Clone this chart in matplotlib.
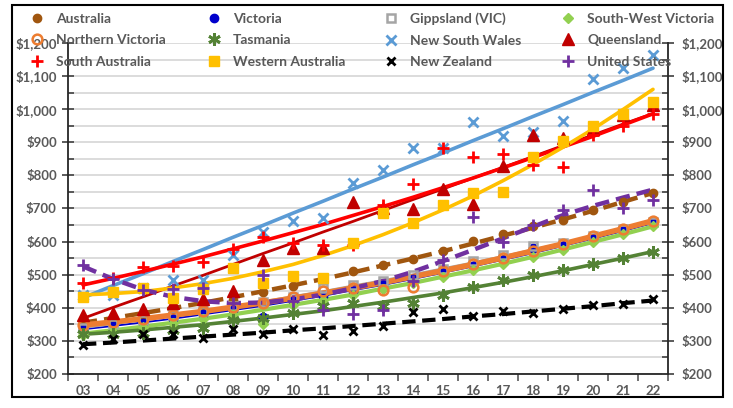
import numpy as np
import matplotlib.pyplot as plt
from matplotlib.lines import Line2D
from matplotlib.patches import Rectangle
from matplotlib.ticker import MultipleLocator, FixedLocator, FuncFormatter

plt.rcParams['font.family'] = ['Lato', 'DejaVu Sans']

#-- data (dollars)
years = ['03', '04', '05', '06', '07', '08', '09', '10', '11', '12',
         '13', '14', '15', '16', '17', '18', '19', '20', '21', '22']

# observed points (markers)
australia = [355, 367, 380, 398, 410, 425, 447, 465, 487, 510,
             528, 548, 573, 603, 622, 648, 665, 695, 720, 747]
victoria = [336, 345, 355, 367, 380, 392, 373, 420, 436, 452,
            469, 487, 505, 525, 545, 580, 587, 609, 632, 656]
gippsland = [340, 352, 364, 377, 390, 404, 418, 434, 460, 468,
             482, 500, 517, 540, 561, 587, 595, 616, 638, 660]
sw_victoria = [318, 330, 342, 354, 366, 380, 350, 408, 424, 440,
               457, 475, 494, 513, 533, 554, 576, 599, 622, 646]
n_victoria = [348, 357, 367, 378, 389, 402, 415, 432, 452, 460,
              454, 464, 512, 531, 551, 572, 593, 616, 639, 663]
tasmania = [320, 322, 325, 333, 338, 363, 370, 385, 405, 415,
            405, 415, 439, 463, 483, 500, 513, 531, 549, 570]
nsw = [440, 440, 459, 483, 485, 560, 630, 663, 670, 778,
       816, 882, 882, 960, 919, 932, 965, 1090, 1125, 1164]
queensland = [378, 383, 395, 414, 427, 452, 544, 580, 580, 720,
              700, 698, 760, 714, 828, 922, 912, 940, 982, 1013]
s_australia = [476, 490, 522, 527, 539, 578, 615, 595, 590, 590,
               710, 774, 882, 855, 866, 831, 826, 922, 949, 985]
w_australia = [433, 449, 459, 429, 456, 519, 474, 496, 489, 595,
               685, 657, 712, 748, 751, 856, 905, 949, 987, 1023]
new_zealand = [288, 305, 322, 320, 310, 335, 320, 335, 317, 330,
               346, 387, 395, 375, 390, 383, 397, 409, 411, 427]
united_states = [530, 488, 454, 457, 460, 415, 500, 420, 393, 380,
                 392, 480, 545, 674, 600, 650, 696, 756, 703, 725]

# trend lines at each year
australia_tr = [355, 369, 384, 399, 415, 432, 450, 468, 487, 507,
                528, 549, 571, 594, 618, 642, 667, 693, 720, 747]
victoria_tr = [335, 345, 356, 367, 380, 393, 406, 421, 436, 453,
               469, 487, 506, 525, 545, 565, 587, 609, 632, 656]
gippsland_tr = [340, 352, 364, 377, 390, 404, 418, 434, 449, 466,
                482, 500, 518, 536, 555, 575, 595, 616, 638, 660]
sw_victoria_tr = [322, 332, 343, 355, 367, 380, 394, 409, 424, 440,
                  458, 475, 494, 513, 533, 554, 576, 599, 622, 646]
n_victoria_tr = [348, 357, 367, 378, 389, 402, 415, 429, 444, 460,
                 476, 494, 512, 531, 551, 572, 593, 616, 639, 663]
tasmania_tr = [320, 326, 333, 341, 349, 359, 369, 380, 391, 404,
               417, 431, 445, 461, 477, 494, 512, 531, 550, 570]
nsw_tr = [430, 467, 503, 540, 576, 613, 649, 686, 722, 759,
          795, 832, 868, 905, 941, 978, 1014, 1051, 1087, 1124]
queensland_tr = [368, 401, 433, 466, 498, 531, 564, 596, 629, 661,
                 694, 727, 759, 792, 824, 857, 890, 922, 955, 987]
s_australia_tr = [469, 489, 510, 532, 554, 578, 602, 627, 652, 679,
                  706, 734, 763, 792, 823, 854, 886, 918, 952, 986]
w_australia_tr = [439, 443, 449, 460, 473, 489, 509, 531, 558, 588,
                  621, 657, 696, 738, 784, 833, 885, 940, 999, 1060]
new_zealand_tr = [290, 295, 301, 307, 313, 319, 325, 332, 338, 345,
                  352, 359, 366, 374, 381, 389, 397, 405, 414, 422]
united_states_tr = [525, 487, 455, 433, 420, 414, 416, 425, 440, 459,
                    481, 509, 541, 575, 610, 645, 680, 708, 733, 757]

# label, values, trend, colour, marker, marker size, marker face, trend width, trend style
series = [
    ('Australia', australia, australia_tr, '#A0560F', 'o', 6, 'full', 3.2, 'dash'),
    ('Victoria', victoria, victoria_tr, '#0000CC', 'o', 6, 'full', 1.3, 'solid'),
    ('Gippsland (VIC)', gippsland, gippsland_tr, '#A5A5A5', 's', 6, 'none', 2.0, 'solid'),
    ('South-West Victoria', sw_victoria, sw_victoria_tr, '#92D050', 'D', 5, 'full', 3.0, 'solid'),
    ('Northern Victoria', n_victoria, n_victoria_tr, '#ED7D31', 'o', 7, 'none', 4.0, 'solid'),
    ('Tasmania', tasmania, tasmania_tr, '#548235', (6, 2, 0), 9, 'full', 2.6, 'solid'),
    ('New South Wales', nsw, nsw_tr, '#5B9BD5', 'x', 7, 'full', 2.6, 'solid'),
    ('Queensland', queensland, queensland_tr, '#C00000', '^', 8, 'full', 2.0, 'solid'),
    ('South Australia', s_australia, s_australia_tr, '#FF0000', '+', 9, 'full', 2.6, 'solid'),
    ('Western Australia', w_australia, w_australia_tr, '#FFC000', 's', 7, 'full', 2.6, 'solid'),
    ('New Zealand', new_zealand, new_zealand_tr, '#000000', 'x', 6, 'full', 3.0, 'dash'),
    ('United States', united_states, united_states_tr, '#7030A0', '+', 8, 'full', 3.2, 'dash'),
]

W, H = 733, 408
fig = plt.figure(figsize=(W / 100, H / 100), dpi=100)
ax = fig.add_axes([68 / W, 34 / H, 600 / W, 331 / H])

x = np.arange(1, len(years) + 1)

#-- trend lines under the markers
for label, vals, trend, col, mk, ms, fill, lw, style in series:
    line, = ax.plot(x, trend, color=col, lw=lw, zorder=2,
                    solid_capstyle='round', solid_joinstyle='round', dash_capstyle='butt')
    if style == 'dash':
        line.set_dashes((3.2, 1.6))

handles = {}
for label, vals, trend, col, mk, ms, fill, lw, style in series:
    kw = dict(linestyle='none', marker=mk, markersize=ms, color=col, zorder=3)
    if fill == 'none':
        kw.update(markerfacecolor='none', markeredgewidth=1.8)
    elif mk in ('x', '+', (6, 2, 0)):
        kw.update(markeredgewidth=2.0)
    ax.plot(x, vals, **kw)
    handles[label] = Line2D([], [], **kw)

#-- axes cosmetics
ax.set_xlim(0.5, len(years) + 0.5)
ax.set_ylim(200, 1200)
ax.yaxis.set_major_locator(MultipleLocator(100))
ax.yaxis.set_minor_locator(MultipleLocator(50))
money = FuncFormatter(lambda v, p: '${:,.0f}'.format(v))
ax.yaxis.set_major_formatter(money)
ax.grid(axis='y', which='both', color='#D9D9D9', lw=1.3, zorder=0)
ax.set_axisbelow(True)

ax.xaxis.set_major_locator(FixedLocator(np.arange(0.5, len(years) + 1)))
ax.xaxis.set_major_formatter(FuncFormatter(lambda v, p: ''))
ax.xaxis.set_minor_locator(FixedLocator(x))
ax.set_xticklabels(years, minor=True)
ax.tick_params(axis='x', which='major', direction='out', length=5, width=1.2, color='#595959')
ax.tick_params(axis='x', which='minor', length=0, pad=8, labelsize=9.5, labelcolor='#595959')
ax.tick_params(axis='y', which='major', direction='inout', length=8, width=1.2,
               labelsize=9.5, labelcolor='#595959', color='#404040', pad=4)
ax.tick_params(axis='y', which='minor', direction='in', length=4, width=1.2, color='#404040')

for sp in ['top', 'right']:
    ax.spines[sp].set_visible(False)
ax.spines['left'].set_color('#262626')
ax.spines['bottom'].set_color('#262626')
ax.spines['left'].set_linewidth(1.3)
ax.spines['bottom'].set_linewidth(1.3)

ax2 = ax.twinx()
ax2.set_ylim(200, 1200)
ax2.yaxis.set_major_locator(MultipleLocator(100))
ax2.yaxis.set_minor_locator(MultipleLocator(50))
ax2.yaxis.set_major_formatter(money)
ax2.tick_params(axis='y', which='major', direction='inout', length=8, width=1.2,
                labelsize=9.5, labelcolor='#595959', color='#404040', pad=6)
ax2.tick_params(axis='y', which='minor', direction='in', length=4, width=1.2, color='#404040')
for sp in ['top', 'left', 'bottom']:
    ax2.spines[sp].set_visible(False)
ax2.spines['right'].set_color('#262626')
ax2.spines['right'].set_linewidth(1.3)

for lab in ax.get_xticklabels(minor=True) + ax.get_yticklabels() + ax2.get_yticklabels():
    lab.set_fontweight('bold')

#-- legend: four columns, rows across
legend_cols = [
    ['Australia', 'Northern Victoria', 'South Australia'],
    ['Victoria', 'Tasmania', 'Western Australia'],
    ['Gippsland (VIC)', 'New South Wales', 'New Zealand'],
    ['South-West Victoria', 'Queensland', 'United States'],
]
col_x = [27, 204, 381, 558]
for cx, names in zip(col_x, legend_cols):
    leg = fig.legend([handles[n] for n in names], names, loc='upper left',
                     bbox_to_anchor=(cx / W, 1 - 10 / H), frameon=False,
                     prop={'size': 10, 'weight': 'bold'}, labelcolor='#595959',
                     handlelength=1.0, handletextpad=0.9, labelspacing=0.68,
                     borderpad=0.2, borderaxespad=0)

#-- outer frame of the chart
fig.patches.append(Rectangle((12 / W, 11 / H), 711 / W, 392 / H, transform=fig.transFigure,
                             fill=False, edgecolor='black', lw=1.5))

fig.savefig('out.png', dpi=100)
